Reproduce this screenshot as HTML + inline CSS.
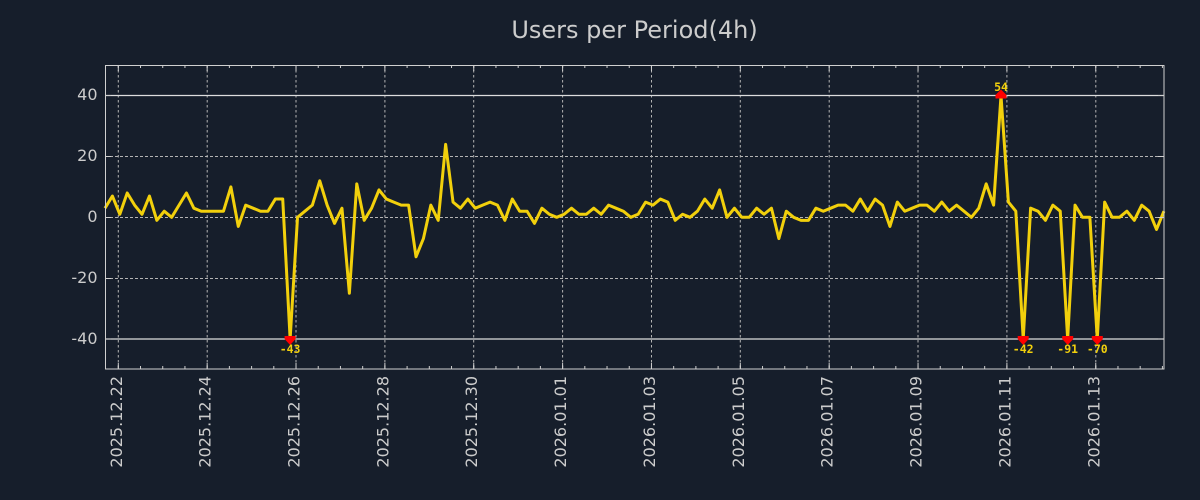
<!DOCTYPE html>
<html>
<head>
<meta charset="utf-8">
<style>
html,body{margin:0;padding:0;background:#161e2b;}
svg{display:block;}
text{font-family:"DejaVu Sans","Liberation Sans",sans-serif;fill:#cccccc;}
.mono{font-family:"DejaVu Sans Mono","Liberation Mono",monospace;font-weight:bold;fill:#f2d00c;font-size:11.5px;}
</style>
</head>
<body>
<svg width="1200" height="500" viewBox="0 0 1200 500" xmlns="http://www.w3.org/2000/svg">
<rect x="0" y="0" width="1200" height="500" fill="#161e2b"/>
<text x="634.5" y="38" font-size="24" text-anchor="middle">Users per Period(4h)</text>

<!-- grid horizontal dashed -->
<g stroke="#b4b4b4" stroke-width="1" stroke-dasharray="3,2" fill="none">
<line x1="105" y1="156.5" x2="1164" y2="156.5"/>
<line x1="105" y1="217.5" x2="1164" y2="217.5"/>
<line x1="105" y1="278.5" x2="1164" y2="278.5"/>
</g>
<!-- grid vertical dotted -->
<g stroke="#b4b4b4" stroke-width="1" stroke-dasharray="2.5,2.5" fill="none">
<line x1="118.3" y1="65" x2="118.3" y2="369"/>
<line x1="207.2" y1="65" x2="207.2" y2="369"/>
<line x1="296.0" y1="65" x2="296.0" y2="369"/>
<line x1="384.9" y1="65" x2="384.9" y2="369"/>
<line x1="473.7" y1="65" x2="473.7" y2="369"/>
<line x1="562.6" y1="65" x2="562.6" y2="369"/>
<line x1="651.5" y1="65" x2="651.5" y2="369"/>
<line x1="740.3" y1="65" x2="740.3" y2="369"/>
<line x1="829.2" y1="65" x2="829.2" y2="369"/>
<line x1="918.0" y1="65" x2="918.0" y2="369"/>
<line x1="1006.9" y1="65" x2="1006.9" y2="369"/>
<line x1="1095.8" y1="65" x2="1095.8" y2="369"/>
</g>
<!-- solid +-40 lines -->
<g stroke="#dddddd" stroke-width="1.2">
<line x1="105" y1="95.5" x2="1164" y2="95.5"/>
<line x1="105" y1="339" x2="1164" y2="339"/>
</g>

<!-- data line -->
<g transform="translate(105 217.3) scale(7.405 -3.04)">
<polyline fill="none" stroke="#f2d00c" stroke-width="3" stroke-linejoin="round" vector-effect="non-scaling-stroke"
points="0,3 1,7 2,1 3,8 4,4 5,1 6,7 7,-1 8,2 9,0 10,4 11,8 12,3 13,2 14,2 15,2 16,2 17,10 18,-3 19,4 20,3 21,2 22,2 23,6 24,6 25,-40 26,0 27,2 28,4 29,12 30,4 31,-2 32,3 33,-25 34,11 35,-1 36,3 37,9 38,6 39,5 40,4 41,4 42,-13 43,-7 44,4 45,-1 46,24 47,5 48,3 49,6 50,3 51,4 52,5 53,4 54,-1 55,6 56,2 57,2 58,-2 59,3 60,1 61,0 62,1 63,3 64,1 65,1 66,3 67,1 68,4 69,3 70,2 71,0 72,1 73,5 74,4 75,6 76,5 77,-1 78,1 79,0 80,2 81,6 82,3 83,9 84,0 85,3 86,0 87,0 88,3 89,1 90,3 91,-7 92,2 93,0 94,-1 95,-1 96,3 97,2 98,3 99,4 100,4 101,2 102,6 103,2 104,6 105,4 106,-3 107,5 108,2 109,3 110,4 111,4 112,2 113,5 114,2 115,4 116,2 117,0 118,3 119,11 120,4 121,40 122,5 123,2 124,-40 125,3 126,2 127,-1 128,4 129,2 130,-40 131,4 132,0 133,0 134,-40 135,5 136,0 137,0 138,2 139,-1 140,4 141,2 142,-4 143,2"/>
</g>

<!-- markers -->
<g fill="#ff0000">
<polygon points="1001,89.5 1006.5,95 1006.5,98.5 995.5,98.5 995.5,95"/>
<polygon points="284.6,336 295.6,336 295.6,339 290.1,345 284.6,339"/>
<polygon points="1017.7,336 1028.7,336 1028.7,339 1023.2,345 1017.7,339"/>
<polygon points="1062.2,336 1073.2,336 1073.2,339 1067.7,345 1062.2,339"/>
<polygon points="1091.8,336 1102.8,336 1102.8,339 1097.3,345 1091.8,339"/>
</g>
<text class="mono" x="1001" y="91" text-anchor="middle">54</text>
<text class="mono" x="290.1" y="353" text-anchor="middle">-43</text>
<text class="mono" x="1023.2" y="353" text-anchor="middle">-42</text>
<text class="mono" x="1067.7" y="353" text-anchor="middle">-91</text>
<text class="mono" x="1097.3" y="353" text-anchor="middle">-70</text>

<!-- frame -->
<rect x="105.5" y="65.5" width="1058.5" height="303.5" fill="none" stroke="#d0d0d0" stroke-width="1"/>

<!-- ticks -->
<g stroke="#d0d0d0" fill="none">
<line x1="117.8" y1="367.5" x2="1164" y2="367.5" stroke-width="3" stroke-dasharray="1 21.215"/>
<line x1="117.8" y1="66.5" x2="1164" y2="66.5" stroke-width="3" stroke-dasharray="1 21.215"/>
<line x1="117.8" y1="366" x2="1164" y2="366" stroke-width="6" stroke-dasharray="1 87.86"/>
<line x1="117.8" y1="68" x2="1164" y2="68" stroke-width="6" stroke-dasharray="1 87.86"/>
<g stroke-width="1">
<line x1="1158" y1="95.5" x2="1164" y2="95.5"/>
<line x1="1158" y1="156.5" x2="1164" y2="156.5"/>
<line x1="1158" y1="217.5" x2="1164" y2="217.5"/>
<line x1="1158" y1="278.5" x2="1164" y2="278.5"/>
<line x1="1158" y1="339" x2="1164" y2="339"/>
<line x1="105" y1="95.5" x2="111" y2="95.5"/>
<line x1="105" y1="156.5" x2="111" y2="156.5"/>
<line x1="105" y1="217.5" x2="111" y2="217.5"/>
<line x1="105" y1="278.5" x2="111" y2="278.5"/>
<line x1="105" y1="339" x2="111" y2="339"/>
</g>
</g>

<!-- y labels -->
<g font-size="16" text-anchor="end">
<text x="97.5" y="100">40</text>
<text x="97.5" y="161">20</text>
<text x="97.5" y="222">0</text>
<text x="97.5" y="283">-20</text>
<text x="97.5" y="344">-40</text>
</g>

<!-- x labels -->
<g font-size="16" text-anchor="end">
<text transform="translate(121.8 376) rotate(-90)">2025.12.22</text>
<text transform="translate(210.7 376) rotate(-90)">2025.12.24</text>
<text transform="translate(299.5 376) rotate(-90)">2025.12.26</text>
<text transform="translate(388.4 376) rotate(-90)">2025.12.28</text>
<text transform="translate(477.2 376) rotate(-90)">2025.12.30</text>
<text transform="translate(566.1 376) rotate(-90)">2026.01.01</text>
<text transform="translate(655.0 376) rotate(-90)">2026.01.03</text>
<text transform="translate(743.8 376) rotate(-90)">2026.01.05</text>
<text transform="translate(832.7 376) rotate(-90)">2026.01.07</text>
<text transform="translate(921.5 376) rotate(-90)">2026.01.09</text>
<text transform="translate(1010.4 376) rotate(-90)">2026.01.11</text>
<text transform="translate(1099.3 376) rotate(-90)">2026.01.13</text>
</g>
</svg>
</body>
</html>
